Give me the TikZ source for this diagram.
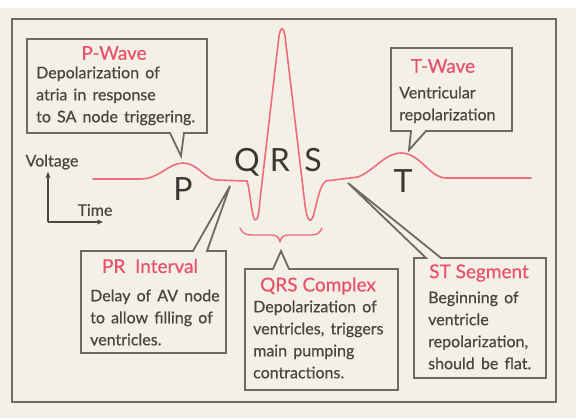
\documentclass[tikz,border=0pt]{standalone}
\usepackage{fontspec}
\setmainfont{Lato}
\newfontfamily\bodyfont{Lato}[FakeBold=0.5, WordSpace=1.5]
\newfontfamily\ttlfont{Lato}[FakeBold=0.4]
\usetikzlibrary{arrows.meta}
\definecolor{bg}{HTML}{F3F0E7}
\definecolor{framec}{HTML}{6F6962}
\definecolor{ink}{HTML}{4A4540}
\definecolor{ecg}{HTML}{F06B7C}
\definecolor{ttl}{HTML}{E9506A}
\tikzset{
  callout/.style={draw=framec, line width=1.8pt, fill=bg, line join=miter},
  ttltext/.style={text=ttl, font=\ttlfont\fontsize{19}{22}\selectfont, inner sep=0pt},
  bodytext/.style={text=ink, font=\bodyfont\fontsize{16}{22}\selectfont, align=left, anchor=north west, inner sep=0pt},
  letter/.style={text=ink!80!black, font=\fontsize{32}{36}\selectfont, inner sep=0pt},
  axislbl/.style={text=ink, font=\bodyfont\fontsize{16}{18}\selectfont, inner sep=0pt},
  wave/.style={draw=ecg, line width=1.6pt, line join=round, line cap=round},
}
\begin{document}
\begin{tikzpicture}[x=1pt,y=-1pt]
\useasboundingbox (0,0) rectangle (576,418);
\fill[bg] (0,0) rectangle (576,418);
\fill[white] (0,0) rectangle (576,8);
\draw[framec, line width=2pt] (12,19) rectangle (556,402);

% ECG trace
\draw[wave] (93,179) -- (140,179) .. controls (160,179) and (168,163) .. (183,163)
  .. controls (198,163) and (205,180) .. (217,180) -- (247,181)
  .. controls (250,190) and (252,219) .. (255,220)
  .. controls (258,221) and (259,212) .. (260,200) -- (279,36)
  .. controls (281,26) and (283,26) .. (285,36) -- (305,205)
  .. controls (307,219) and (309,221) .. (311,220)
  .. controls (315,218) and (318,185) .. (326,181) -- (358,177)
  .. controls (375,170) and (385,153) .. (401,153)
  .. controls (420,153) and (430,178) .. (446,178) -- (531,178);

% brace
\draw[wave, line width=1.4pt] (240,228) .. controls (243,234) and (246,235) .. (252,235) -- (272,235)
  .. controls (277,235) and (279,238) .. (280,242) .. controls (281,238) and (283,235) .. (288,235)
  -- (311,235) .. controls (317,235) and (320,233) .. (322,228);

% letters
\node[letter] (P) at (183,189) {P};
\node[letter] (Q) at (247,162) {Q};
\node[letter] (R) at (280,160) {R};
\node[letter] (S) at (313,160) {S};
\node[letter] (T) at (403,181) {T};

% axes
\coordinate (origin) at (48,222);
\coordinate (vtop) at (48,172);
\coordinate (hend) at (103,222);
\draw[ink, line width=1.2pt, -{Stealth[length=6pt,width=5pt]}] (origin) -- (vtop);
\draw[ink, line width=1.2pt, -{Stealth[length=6pt,width=5pt]}] (origin) -- (hend);
\node[axislbl] (volt) at (52,162) {Voltage};
\node[axislbl] (time) at (95,210) {Time};

% P-Wave callout
\coordinate (ptip) at (181,156);
\draw[callout] (27,39) -- (207,39) -- (207,133) -- (184,133) -- (ptip) -- (170,133) -- (27,133) -- cycle;
\node[ttltext] (pt) at (114,53) {P-Wave};
\node[bodytext] (pb) at (36,66.3) {Depolarization of\\atria in response\\to SA node triggering.};

% T-Wave callout
\coordinate (ttip) at (409,150);
\draw[callout] (391,48) -- (512,48) -- (512,131) -- (426,131) -- (ttip) -- (411,131) -- (391,131) -- cycle;
\node[ttltext] (tt) at (443,66) {T-Wave};
\node[bodytext] (tb) at (399,86.3) {Ventricular\\repolarization};

% PR Interval callout
\coordinate (prtip) at (230,186);
\draw[callout] (81,251) -- (193,251) -- (prtip) -- (207,251) -- (226,251) -- (226,353) -- (81,353) -- cycle;
\node[ttltext] (prt) at (150,266) {PR\ \ Interval};
\node[bodytext] (prb) at (90,289.3) {Delay of AV node\\to allow filling of\\ventricles.};

% QRS Complex callout
\coordinate (qtip) at (281,251);
\draw[callout] (245,269) -- (273,269) -- (qtip) -- (289,269) -- (398,269) -- (398,390) -- (245,390) -- cycle;
\node[ttltext] (qt) at (318,286) {QRS Complex};
\node[bodytext] (qb) at (253,300.3) {Depolarization of\\ventricles, triggers\\main pumping\\contractions.};

% ST Segment callout
\coordinate (sttip) at (348,183);
\draw[callout] (414,258) -- (426,258) -- (sttip) -- (441,258) -- (546,258) -- (546,378) -- (414,378) -- cycle;
\node[ttltext] (stt) at (479,273) {ST Segment};
\node[bodytext] (stb) at (428,291.3) {Beginning of\\ventricle\\repolarization,\\should be flat.};
\end{tikzpicture}
\end{document}
